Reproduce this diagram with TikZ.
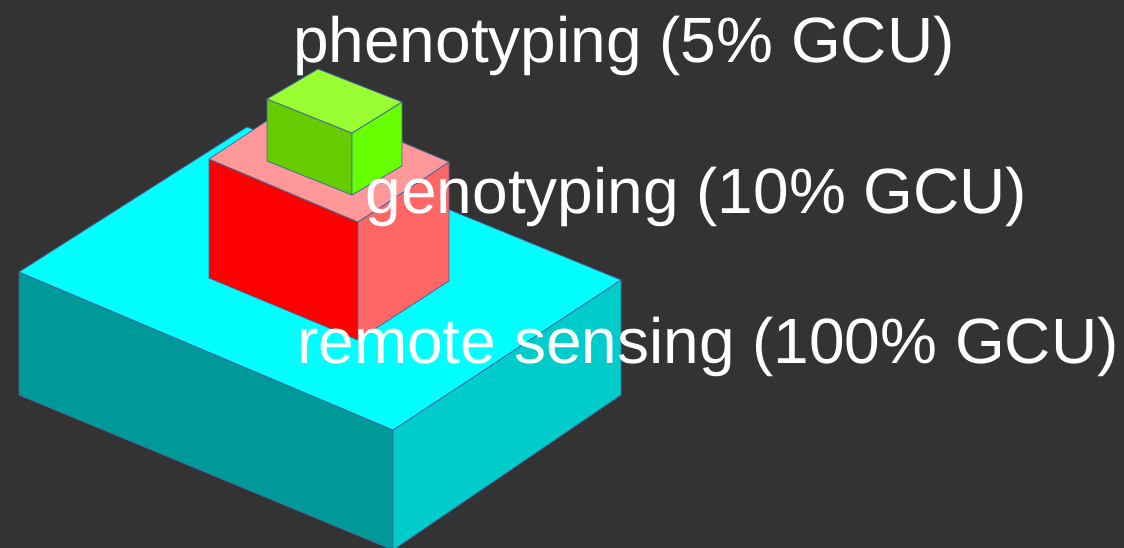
\documentclass[tikz,border=0pt]{standalone}
\usepackage{fontspec}
\setmainfont{Liberation Sans}
\usepackage{tikz}
\usetikzlibrary{positioning}
\definecolor{bg}{HTML}{333333}
\definecolor{edge}{HTML}{41689F}
\begin{document}
\begin{tikzpicture}[x=1pt,y=-1pt,
	face/.style={draw=edge,line width=0.8pt,line join=round},
	lbl/.style={anchor=base west,inner sep=0pt,text=white,font=\fontsize{64}{64}\selectfont}]
	\fill[bg] (0,0) rectangle (1124,548);
	\useasboundingbox (0,0) rectangle (1124,548);
	% remote sensing layer
	\filldraw[face,fill={rgb,255:red,0;green,153;blue,153}] (19,272) -- (393,430) -- (393,550) -- (19,395) -- cycle;
	\filldraw[face,fill={rgb,255:red,0;green,204;blue,204}] (393,430) -- (621,280) -- (621,395) -- (393,550) -- cycle;
	\filldraw[face,fill={rgb,255:red,0;green,255;blue,255}] (19,272) -- (247,127) -- (621,280) -- (393,430) -- cycle;
	% genotyping layer
	\filldraw[face,fill={rgb,255:red,255;green,0;blue,0}] (209,159) -- (358,222) -- (358,340) -- (209,278) -- cycle;
	\filldraw[face,fill={rgb,255:red,255;green,102;blue,102}] (358,222) -- (449,162) -- (449,281) -- (358,340) -- cycle;
	\filldraw[face,fill={rgb,255:red,255;green,153;blue,153}] (209,159) -- (300,99) -- (449,162) -- (358,222) -- cycle;
	% phenotyping layer
	\filldraw[face,fill={rgb,255:red,102;green,204;blue,0}] (267,99) -- (352,133) -- (352,195) -- (267,161) -- cycle;
	\filldraw[face,fill={rgb,255:red,102;green,255;blue,0}] (352,133) -- (402,102) -- (402,166) -- (352,195) -- cycle;
	\filldraw[face,fill={rgb,255:red,153;green,255;blue,51}] (267,99) -- (318,69) -- (402,102) -- (352,133) -- cycle;
	% labels
	\node[lbl] (pheno) at (293,63) {phenotyping (5\% GCU)};
	\node[lbl] (geno) at (365.5,214) {genotyping (10\% GCU)};
	\node[lbl] (remote) at (297,363) {remote sensing (100\% GCU)};
\end{tikzpicture}
\end{document}
